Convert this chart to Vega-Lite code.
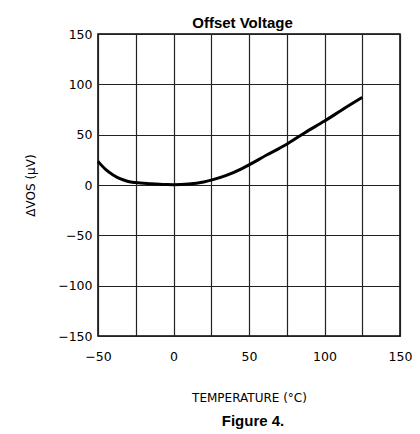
{
  "$schema": "https://vega.github.io/schema/vega-lite/v6.json",
  "width": 302,
  "height": 302,
  "autosize": {"type": "none"},
  "padding": {"left": 98, "top": 34, "right": 20, "bottom": 98},
  "background": "white",
  "title": {"text": "Figure 4.", "orient": "bottom", "font": "Liberation Sans", "fontSize": 15, "fontWeight": "bold", "color": "black", "offset": 10, "dx": 4},
  "config": {
    "view": {"stroke": "black", "strokeWidth": 1.5},
    "axis": {"gridColor": "#222222", "gridOpacity": 1, "gridWidth": 1.2, "domain": false, "ticks": false, "labelFlush": false, "labelOverlap": false, "labelFont": "DejaVu Sans", "labelFontSize": 12.5, "labelColor": "black", "titleColor": "black"}
  },
  "data": {"values": [
    {"t": -50, "v": 23.5},
    {"t": -45, "v": 15.5},
    {"t": -40, "v": 10},
    {"t": -35, "v": 6},
    {"t": -30, "v": 3.5},
    {"t": -25, "v": 2.4},
    {"t": -15, "v": 1.3},
    {"t": -5, "v": 0.5},
    {"t": 0, "v": 0.3},
    {"t": 10, "v": 0.9},
    {"t": 20, "v": 3},
    {"t": 25, "v": 4.8},
    {"t": 35, "v": 9.5},
    {"t": 45, "v": 16},
    {"t": 50, "v": 20},
    {"t": 62, "v": 30},
    {"t": 75, "v": 40.5},
    {"t": 87, "v": 52},
    {"t": 100, "v": 63.5},
    {"t": 112, "v": 75},
    {"t": 125, "v": 87}
  ]},
  "layer": [
    {
      "mark": {"type": "line", "color": "black", "strokeWidth": 3, "interpolate": "monotone"},
      "encoding": {
        "x": {"field": "t", "type": "quantitative", "scale": {"domain": [-50, 150], "nice": false},
          "axis": {"values": [-50,-25,0,25,50,75,100,125,150], "labelExpr": "datum.value % 50 == 0 ? datum.label : ''", "labelPadding": 14, "title": "TEMPERATURE (°C)", "titleFont": "DejaVu Sans", "titleFontSize": 12, "titleFontWeight": "normal", "titlePadding": 30}},
        "y": {"field": "v", "type": "quantitative", "scale": {"domain": [-150, 150], "nice": false},
          "axis": {"values": [-150, -100, -50, 0, 50, 100, 150], "labelPadding": 6, "title": "ΔVOS (µV)", "titleFont": "DejaVu Sans", "titleFontSize": 12, "titleFontWeight": "normal", "titlePadding": 20}}
      }
    },
    {
      "mark": {"type": "line", "opacity": 0},
      "encoding": {
        "x": {"field": "t", "type": "quantitative", "scale": {"domain": [-50, 150], "nice": false},
          "axis": {"orient": "top", "grid": false, "labels": false, "title": "Offset Voltage", "titleFont": "Liberation Sans", "titleFontSize": 15, "titleFontWeight": "bold", "titlePadding": 4, "titleX": 144}}
      }
    }
  ],
  "resolve": {"axis": {"x": "independent"}}
}
